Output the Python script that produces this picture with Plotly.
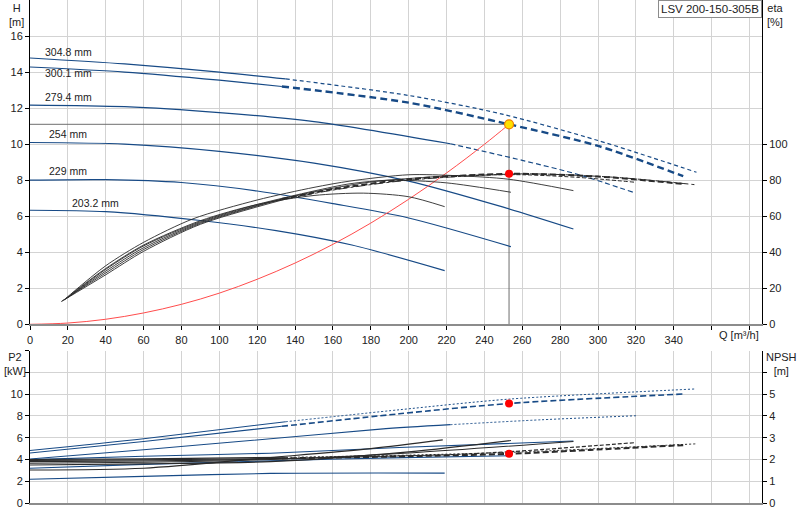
import plotly.graph_objects as go

# impeller diameters [mm]
diameters = ["304.8", "300.1", "279.4", "254", "229", "203.2"]

# head curves H [m] vs Q [m3/h]
h_q = {
    "304.8": [0, 50, 100, 135, 200, 250, 300, 352],
    "300.1": [0, 50, 100, 133, 200, 253, 300, 345],
    "279.4": [0, 50, 100, 150, 222, 260, 290, 319],
    "254":   [0, 50, 100, 150, 200, 250, 287],
    "229":   [0, 40, 80, 120, 160, 200, 254],
    "203.2": [0, 40, 90, 130, 170, 219],
}
h_val = {
    "304.8": [14.78, 14.45, 14.0, 13.62, 12.7, 11.65, 10.2, 8.44],
    "300.1": [14.28, 14.0, 13.55, 13.2, 12.3, 11.1, 9.9, 8.22],
    "279.4": [12.17, 12.08, 11.75, 11.25, 10.02, 9.1, 8.3, 7.31],
    "254":   [10.09, 10.0, 9.6, 8.95, 7.95, 6.5, 5.29],
    "229":   [8.0, 8.03, 7.87, 7.4, 6.7, 5.9, 4.31],
    "203.2": [6.33, 6.25, 5.76, 5.2, 4.4, 2.98],
}

# efficiency eta [%]
eta_q = {
    "304.8": [16.5, 40, 60, 90, 135, 160, 200, 260, 310, 352],
    "300.1": [17, 40, 60, 90, 133, 160, 200, 253, 300, 345],
    "279.4": [18, 40, 60, 90, 120, 150, 180, 222, 260, 290, 319],
    "254":   [19, 40, 60, 86, 120, 150, 169, 200, 225, 253, 287],
    "229":   [20, 40, 60, 90, 120, 150, 169, 190, 220, 254],
    "203.2": [22, 40, 60, 90, 120, 150, 176, 200, 219],
}
eta_val = {
    "304.8": [12.6, 27.5, 40.5, 55.5, 69.5, 74.5, 80, 83.5, 81.5, 77.4],
    "300.1": [13, 28.5, 41.5, 56, 69.5, 75, 80.5, 83.5, 82, 77.9],
    "279.4": [13.5, 29.5, 42.5, 56.5, 66, 73.5, 79, 82.5, 83, 81.5, 78.9],
    "254":   [14.5, 32.5, 45.5, 58.5, 69, 76, 79.5, 83, 82.5, 80.5, 74.2],
    "229":   [15, 30.5, 43.5, 57, 66.5, 74, 78, 80, 78.5, 73.3],
    "203.2": [17, 31, 44, 57.5, 66.5, 71.5, 72.8, 70.8, 65.3],
}

# shaft power P2 [kW]
p2_q = {
    "304.8": [0, 60, 135, 195, 253, 351],
    "300.1": [0, 60, 133, 195, 253, 345],
    "279.4": [0, 60, 127, 185, 222, 270, 320],
    "254":   [0, 60, 127, 195, 287],
    "229":   [0, 60, 127, 190, 254],
    "203.2": [0, 60, 127, 219],
}
p2_val = {
    "304.8": [4.82, 5.9, 7.47, 8.57, 9.55, 10.48],
    "300.1": [4.6, 5.65, 7.05, 8.2, 9.15, 10.02],
    "279.4": [4.05, 4.9, 5.9, 6.79, 7.2, 7.65, 8.02],
    "254":   [3.99, 4.3, 4.58, 5.1, 5.7],
    "229":   [3.2, 3.55, 3.87, 4.15, 4.35],
    "203.2": [2.18, 2.45, 2.72, 2.75],
}

# NPSH [m]
npsh_q = {
    "304.8": [0, 60, 135, 200, 260, 352],
    "300.1": [0, 60, 133, 200, 253, 296, 345],
    "279.4": [0, 60, 127, 222, 254, 319],
    "254":   [0, 60, 127, 200, 287],
    "229":   [0, 60, 127, 200, 254],
    "203.2": [0, 60, 127, 180, 218],
}
npsh_val = {
    "304.8": [2.0, 2.03, 2.1, 2.2, 2.35, 2.72],
    "300.1": [1.95, 1.98, 2.05, 2.15, 2.26, 2.44, 2.66],
    "279.4": [1.9, 1.93, 2.02, 2.22, 2.36, 2.77],
    "254":   [1.83, 1.87, 2.0, 2.3, 2.83],
    "229":   [1.75, 1.8, 1.9, 2.35, 2.87],
    "203.2": [1.52, 1.6, 2.09, 2.5, 2.9],
}

# system curve
sys_q = [0, 20, 40, 60, 80, 100, 120, 140, 160, 180, 200, 220, 240, 253]
sys_h = [0, 0.07, 0.28, 0.63, 1.11, 1.73, 2.5, 3.4, 4.44, 5.62, 6.94, 8.4, 9.99, 11.1]

# duty point
op_q = 253
op_h = 11.1
op_eta = 83.5
op_p2 = 9.15
op_npsh = 2.26

q_ticks = list(range(0, 400, 20))
h_ticks = list(range(0, 18, 2))
eta_ticks = list(range(0, 120, 20))
p2_ticks = list(range(0, 16, 2))
npsh_ticks = list(range(0, 7, 1))

# where curves switch from solid to broken line
breaks = {"304.8": 135, "300.1": 133, "279.4": 222}

BLUE = "#174a86"
BLACK = "#2a2a2a"
GRID = "#d3d3d3"
FONT = "Arial, Liberation Sans, sans-serif"

fig = go.Figure()


def add_curve(q, v, d, xa, ya, color, width, broken):
    """solid part, then the broken continuation for the bigger impellers"""
    qb = breaks.get(d)
    if qb is None:
        parts = [(q, v, "solid", width)]
    else:
        s = [i for i, x in enumerate(q) if x <= qb]
        e = [i for i, x in enumerate(q) if x >= qb]
        dash, dw = broken[d]
        parts = [([q[i] for i in s], [v[i] for i in s], "solid", width),
                 ([q[i] for i in e], [v[i] for i in e], dash, dw)]
    for qq, vv, dash, w in parts:
        fig.add_trace(go.Scatter(x=qq, y=vv, xaxis=xa, yaxis=ya, mode="lines",
                                 line=dict(color=color, width=w, dash=dash,
                                           shape="spline", smoothing=0.8),
                                 hoverinfo="skip", showlegend=False))


h_broken = {"304.8": ("4px,3px", 1.2), "300.1": ("7px,4px", 2.4), "279.4": ("5px,3px", 1.2)}
eta_broken = {"304.8": ("dashdot", 1), "300.1": ("6px,3px", 2), "279.4": ("4px,2px", 1)}
p2_broken = {"304.8": ("2px,2px", 1), "300.1": ("6px,3px", 1.6), "279.4": ("2px,2px", 1)}
npsh_broken = {"304.8": ("2px,2px", 1), "300.1": ("6px,3px", 2), "279.4": ("4px,2px", 1.2)}

# operating point lines
fig.add_trace(go.Scatter(x=[0, op_q], y=[op_h, op_h], mode="lines", xaxis="x", yaxis="y",
                         line=dict(color="#6e6e6e", width=1), hoverinfo="skip", showlegend=False))
fig.add_trace(go.Scatter(x=[op_q, op_q], y=[0, op_h], mode="lines", xaxis="x", yaxis="y",
                         line=dict(color="#6e6e6e", width=1), hoverinfo="skip", showlegend=False))

for d in diameters:
    add_curve(h_q[d], h_val[d], d, "x", "y", BLUE, 1.2, h_broken)
    add_curve(eta_q[d], eta_val[d], d, "x", "y3", BLACK, 0.9, eta_broken)
    add_curve(p2_q[d], p2_val[d], d, "x2", "y2", BLUE, 1.1, p2_broken)
    add_curve(npsh_q[d], npsh_val[d], d, "x2", "y4", BLACK, 1.1, npsh_broken)

fig.add_trace(go.Scatter(x=sys_q, y=sys_h, mode="lines", xaxis="x", yaxis="y",
                         line=dict(color="#ff4c4c", width=1, shape="spline"),
                         hoverinfo="skip", showlegend=False))

# duty point markers
fig.add_trace(go.Scatter(x=[op_q], y=[op_h], mode="markers", xaxis="x", yaxis="y",
                         marker=dict(size=9, color="#ffe000", line=dict(color="#f08000", width=1.2)),
                         hoverinfo="skip", showlegend=False))
fig.add_trace(go.Scatter(x=[op_q], y=[op_eta], mode="markers", xaxis="x", yaxis="y3",
                         marker=dict(size=8, color="#ff0000"), hoverinfo="skip", showlegend=False))
fig.add_trace(go.Scatter(x=[op_q], y=[op_p2], mode="markers", xaxis="x2", yaxis="y2",
                         marker=dict(size=8, color="#ff0000"), hoverinfo="skip", showlegend=False))
fig.add_trace(go.Scatter(x=[op_q], y=[op_npsh], mode="markers", xaxis="x2", yaxis="y4",
                         marker=dict(size=8, color="#ff0000"), hoverinfo="skip", showlegend=False))

# diameter labels
label_pos = {"304.8": (7, 15.09), "300.1": (7, 13.94), "279.4": (7, 12.64),
             "254": (9, 10.57), "229": (9, 8.52), "203.2": (21.3, 6.76)}
for d in diameters:
    fig.add_annotation(x=label_pos[d][0], y=label_pos[d][1], xref="x", yref="y",
                       text=f"{d} mm", showarrow=False, xanchor="left", yanchor="middle",
                       font=dict(size=10.5, color="#222"))

top_lo = (503 - 324.3) / 503
bot_hi = (503 - 350.7) / 503

axis_common = dict(showgrid=True, gridcolor=GRID, gridwidth=1, zeroline=False,
                   tickfont=dict(size=11, color="#222"), ticks="outside", ticklen=4,
                   tickcolor="#000")
x_range = [0, 386.6]

fig.update_layout(
    width=800, height=520,
    margin=dict(l=30, r=38, t=0, b=17),
    paper_bgcolor="white", plot_bgcolor="white",
    font=dict(family=FONT, size=11, color="#222"),
    xaxis=dict(domain=[0, 1], anchor="y", range=x_range, tickvals=q_ticks,
               ticktext=[str(t) if t <= 340 else "" for t in q_ticks],
               showline=True, linecolor="#8c8c8c", linewidth=2, **axis_common),
    yaxis=dict(domain=[top_lo, 1], anchor="x", range=[0, 18], tickvals=h_ticks,
               showline=True, linecolor="#000", linewidth=1, **axis_common),
    yaxis3=dict(overlaying="y", anchor="x", side="right", range=[0, 180], tickvals=eta_ticks,
                showline=True, linecolor="#000", linewidth=1,
                **{**axis_common, "showgrid": False}),
    xaxis2=dict(domain=[0, 1], anchor="y2", range=x_range, tickvals=q_ticks,
                showticklabels=False, showline=True, linecolor="#8c8c8c", linewidth=2,
                **{**axis_common, "ticks": ""}),
    yaxis2=dict(domain=[0, bot_hi], anchor="x2", range=[0, 14], tickvals=p2_ticks,
                ticktext=[str(t) if t <= 10 else "" for t in p2_ticks],
                showline=True, linecolor="#000", linewidth=1, **axis_common),
    yaxis4=dict(overlaying="y2", anchor="x2", side="right", range=[0, 7], tickvals=npsh_ticks,
                ticktext=[str(t) if t <= 5 else "" for t in npsh_ticks],
                showline=True, linecolor="#000", linewidth=1,
                **{**axis_common, "showgrid": False}),
)

# axis titles and product name
fig.add_annotation(x=-0.019, y=1, xref="paper", yref="paper", text="H<br>[m]", showarrow=False,
                   xanchor="center", yanchor="top", font=dict(size=11, color="#222"))
fig.add_annotation(x=1.0178, y=1, xref="paper", yref="paper", text="eta<br>[%]", showarrow=False,
                   xanchor="center", yanchor="top", font=dict(size=11, color="#222"))
fig.add_annotation(x=-0.02, y=bot_hi, xref="paper", yref="paper", text="P2<br>[kW]", showarrow=False,
                   xanchor="center", yanchor="top", yshift=2, font=dict(size=11, color="#222"))
fig.add_annotation(x=1.026, y=bot_hi, xref="paper", yref="paper", text="NPSH<br>[m]", showarrow=False,
                   xanchor="center", yanchor="top", yshift=2, font=dict(size=11, color="#222"))
fig.add_annotation(x=374.5, y=top_lo, xref="x", yref="paper", text="Q [m³/h]", showarrow=False,
                   xanchor="center", yanchor="top", yshift=-3, font=dict(size=11, color="#222"))
fig.add_annotation(x=1, y=1, xref="paper", yref="paper", text="LSV 200-150-305B", showarrow=False,
                   xanchor="right", yanchor="top", bordercolor="#8c8c8c", borderwidth=1,
                   borderpad=2, bgcolor="white", font=dict(size=11.5, color="#222"))

# the page would otherwise add the browser's default body margin
fig.write_html("out.html", config={"displayModeBar": False},
               post_script="document.body.style.margin='0px';")
